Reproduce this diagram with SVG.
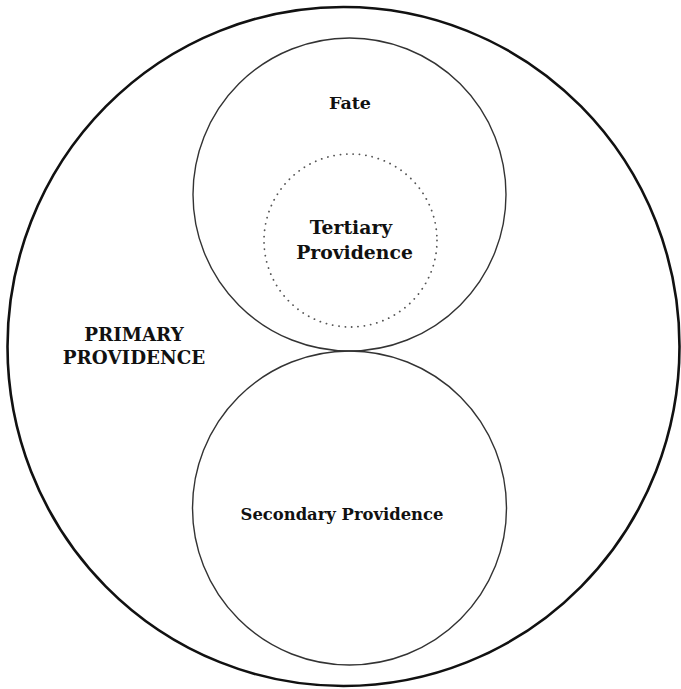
<svg xmlns="http://www.w3.org/2000/svg" width="681" height="689" viewBox="0 0 681 689">
<style>
.lbl{font-family:"DejaVu Serif","Liberation Serif",serif;font-weight:bold;font-size:16px;fill:#111;text-anchor:middle}
.ring{fill:none;stroke:#333;stroke-width:1.4}
</style>
<rect width="681" height="689" fill="#fff"/>
<g id="primary">
<ellipse cx="343.5" cy="346.5" rx="336" ry="339.5" fill="none" stroke="#111" stroke-width="2.6"/>
<text class="lbl" x="134" y="341" style="font-size:18.3px">PRIMARY</text>
<text class="lbl" x="134" y="364" style="font-size:18.3px">PROVIDENCE</text>
</g>
<g id="fate">
<circle class="ring" cx="349.5" cy="194.5" r="156.5"/>
<text class="lbl" x="350" y="109" style="font-size:17.5px">Fate</text>
</g>
<g id="tertiary">
<circle cx="350.5" cy="240.5" r="86.5" fill="none" stroke="#555" stroke-width="1.8" stroke-dasharray="0.1 6.3" stroke-linecap="round"/>
<text class="lbl" x="351" y="234" style="font-size:18.8px">Tertiary</text>
<text class="lbl" x="354.5" y="259" style="font-size:18.8px">Providence</text>
</g>
<g id="secondary">
<circle class="ring" cx="349.5" cy="508" r="157"/>
<text class="lbl" x="342" y="520" style="font-size:16.4px">Secondary Providence</text>
</g>
<g id="connectors"></g>
</svg>
